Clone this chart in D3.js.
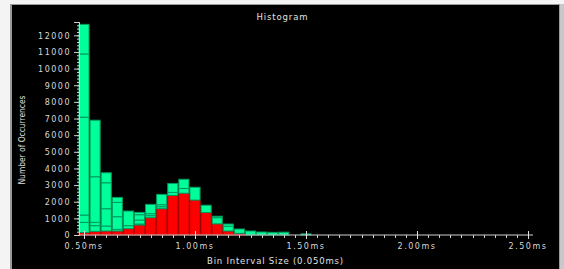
<!DOCTYPE html>
<html>
<head>
<meta charset="utf-8">
<script src="https://cdn.jsdelivr.net/npm/d3@7"></script>
<style>
  body { margin: 0; background: #f4f4f4; }
  svg { display: block; }
  .tick-label { font-family: "DejaVu Sans", sans-serif; font-size: 8px; letter-spacing: 1.5px; fill: #d8d8d8; }
</style>
</head>
<body>
<div id="chart"></div>
<script>
// bin centres (ms)
var bins = [0.50, 0.55, 0.60, 0.65, 0.70, 0.75, 0.80, 0.85, 0.90, 0.95, 1.00,
            1.05, 1.10, 1.15, 1.20, 1.25, 1.30, 1.35, 1.40, 1.45, 1.50];

// stacked counts per bin, bottom to top
var redCounts = [150, 220, 240, 240, 380, 600, 1040, 1580, 2380, 2510, 2100, 1350, 670, 240, 100, 0, 0, 0, 0, 0, 0];
var greenA = [610, 340, 300, 100, 180, 60, 120, 120, 180, 290, 770, 440, 370, 290, 260, 240, 180, 160, 170, 0, 70];
var greenB = [440, 200, 1040, 760, 880, 240, 120, 120, 540, 550, 0, 0, 90, 130, 0, 0, 0, 0, 0, 0, 0];
var greenC = [5880, 2740, 1560, 860, 0, 320, 560, 620, 0, 0, 0, 0, 0, 0, 0, 0, 0, 0, 0, 0, 0];
var greenD = [3800, 3400, 600, 300, 0, 140, 0, 0, 0, 0, 0, 0, 0, 0, 0, 0, 0, 0, 0, 0, 0];
var greenE = [1780, 0, 0, 0, 0, 0, 0, 0, 0, 0, 0, 0, 0, 0, 0, 0, 0, 0, 0, 0, 0];

var yTicks = [0, 1000, 2000, 3000, 4000, 5000, 6000, 7000, 8000, 9000, 10000, 11000, 12000];
var xTicks = [0.5, 1.0, 1.5, 2.0, 2.5];

var width = 564, height = 269;
var binSize = 0.05;

var svg = d3.select("#chart").append("svg")
    .attr("width", width)
    .attr("height", height);

// frame
svg.append("rect").attr("x", 0).attr("y", 0).attr("width", width).attr("height", height).attr("fill", "#f4f4f4");
svg.append("rect").attr("x", 10).attr("y", 4).attr("width", 550).attr("height", 265).attr("fill", "#9a9a9a");
svg.append("rect").attr("x", 12).attr("y", 5).attr("width", 547).attr("height", 264).attr("fill", "#000");
svg.append("rect").attr("x", 560).attr("y", 4).attr("width", 4).attr("height", 265).attr("fill", "#c8c8c8");

var xScale = d3.scaleLinear().domain([0.5, 2.5]).range([84, 528]);
var yScale = d3.scaleLinear().domain([0, 12800]).range([235, 22]);

// stack the layers
var table = bins.map(function(b, i) {
    return { bin: b, red: redCounts[i], a: greenA[i], b: greenB[i], c: greenC[i], d: greenD[i], e: greenE[i] };
});
var keys = ["red", "a", "b", "c", "d", "e"];
var stacked = d3.stack().keys(keys)(table);

var barW = xScale(binSize) - xScale(0) - 1;

stacked.forEach(function(layer) {
    var isRed = layer.key === "red";
    svg.append("g")
        .selectAll("rect")
        .data(layer.filter(function(d) { return d[1] - d[0] > 0; }))
        .enter()
        .append("rect")
        .attr("x", function(d) { return xScale(d.data.bin) - barW / 2; })
        .attr("y", function(d) { return yScale(d[1]); })
        .attr("width", barW)
        .attr("height", function(d) { return yScale(d[0]) - yScale(d[1]); })
        .attr("fill", isRed ? "#ff0000" : "#00ff99")
        .attr("stroke", isRed ? "#c80000" : "#009960")
        .attr("stroke-width", 1);
});

// y axis
var yAxis = d3.axisLeft(yScale).tickValues(yTicks).tickSize(5).tickFormat(d3.format("d"));
var yMinor = d3.axisLeft(yScale).tickValues(d3.range(0, 12801, 200)).tickSize(2).tickFormat("");

var gyMinor = svg.append("g").attr("transform", "translate(79,0)").call(yMinor);
var gy = svg.append("g").attr("transform", "translate(79,0)").call(yAxis);
[gy, gyMinor].forEach(function(g) {
    g.selectAll("line").attr("stroke", "#cfcfcf");
    g.select(".domain").attr("stroke", "#cfcfcf");
});
gy.selectAll("text").attr("class", "tick-label").attr("x", -8).attr("dy", "0.35em");

// x axis
var gx = svg.append("g").attr("transform", "translate(0,235)");
gx.append("line").attr("x1", 79).attr("x2", 533).attr("y1", 0).attr("y2", 0).attr("stroke", "#cfcfcf");
gx.selectAll(".minor")
    .data(d3.range(0, 41).map(function(i) { return 0.5 + i * binSize; }))
    .enter().append("line")
    .attr("x1", function(d) { return Math.round(xScale(d)) + 0.5; })
    .attr("x2", function(d) { return Math.round(xScale(d)) + 0.5; })
    .attr("y1", 0).attr("y2", 3)
    .attr("stroke", "#cfcfcf");
gx.selectAll(".major")
    .data(xTicks)
    .enter().append("line")
    .attr("x1", function(d) { return Math.round(xScale(d)) + 0.5; })
    .attr("x2", function(d) { return Math.round(xScale(d)) + 0.5; })
    .attr("y1", -4).attr("y2", 4)
    .attr("stroke", "#e0e0e0");
gx.selectAll("text")
    .data(xTicks)
    .enter().append("text")
    .attr("class", "tick-label")
    .attr("x", function(d) { return xScale(d); })
    .attr("y", 14)
    .attr("text-anchor", "middle")
    .text(function(d) { return d.toFixed(2) + "ms"; });

// titles
svg.append("text")
    .attr("x", 282).attr("y", 20)
    .attr("text-anchor", "middle")
    .attr("font-family", "DejaVu Sans, sans-serif")
    .attr("font-size", 8.5)
    .attr("fill", "#e0e0e0")
    .attr("textLength", 51)
    .attr("lengthAdjust", "spacing")
    .text("Histogram");

svg.append("text")
    .attr("x", 275).attr("y", 264)
    .attr("text-anchor", "middle")
    .attr("font-family", "DejaVu Sans, sans-serif")
    .attr("font-size", 8.5)
    .attr("fill", "#e0e0e0")
    .attr("textLength", 136)
    .attr("lengthAdjust", "spacing")
    .text("Bin Interval Size (0.050ms)");

svg.append("text")
    .attr("transform", "translate(25,140)rotate(-90)")
    .attr("text-anchor", "middle")
    .attr("font-family", "DejaVu Sans Condensed, DejaVu Sans, sans-serif")
    .attr("font-size", 9)
    .attr("fill", "#e0e0e0")
    .attr("textLength", 89)
    .attr("lengthAdjust", "spacingAndGlyphs")
    .text("Number of Occurrences");
</script>
</body>
</html>
